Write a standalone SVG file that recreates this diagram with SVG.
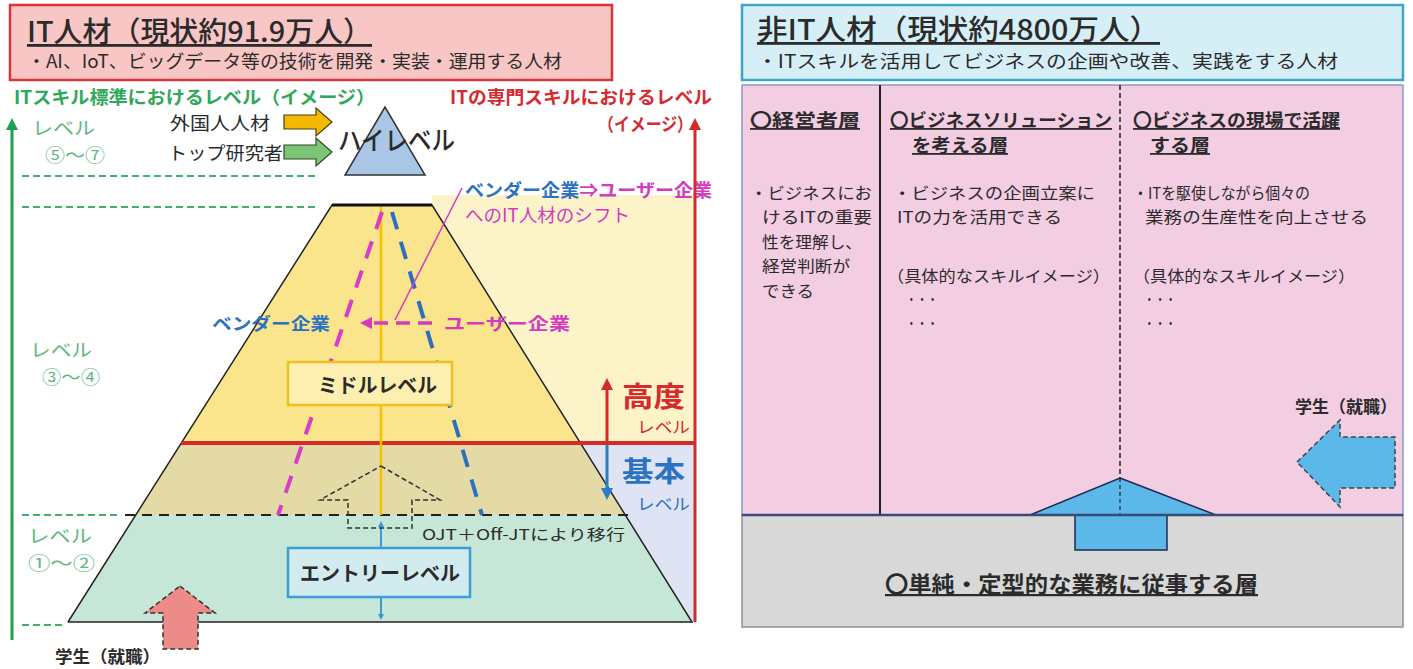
<svg xmlns="http://www.w3.org/2000/svg" width="1413" height="669" viewBox="0 0 1413 669">
<style>
text{font-family:"Noto Sans CJK JP","Noto Sans",sans-serif;}
.t{fill:#2b2b2b;}
.b{font-weight:bold;}
.m{font-weight:500;}
.u{text-decoration:underline;}
.g{fill:#2fa85a;}
.gl{fill:#5fb883;}
.r{fill:#d42a30;}
.bl{fill:#2c72c2;}
.mg{fill:#d23cbf;}
.gdash{stroke:#3fb06a;stroke-width:2;stroke-dasharray:7,4;fill:none;}
</style>
<defs>
<marker id="mGreen" viewBox="0 0 10 10" refX="5" refY="5" markerWidth="4" markerHeight="4" orient="auto-start-reverse"><path d="M0,0L10,5L0,10z" fill="#1fa050"/></marker>
<marker id="mRed" viewBox="0 0 10 10" refX="5" refY="5" markerWidth="4" markerHeight="4" orient="auto-start-reverse"><path d="M0,0L10,5L0,10z" fill="#d42a2a"/></marker>
<marker id="mBlue" viewBox="0 0 10 10" refX="5" refY="5" markerWidth="4" markerHeight="4" orient="auto-start-reverse"><path d="M0,0L10,5L0,10z" fill="#2a7dc9"/></marker>
<marker id="mLBlue" viewBox="0 0 10 10" refX="5" refY="5" markerWidth="3" markerHeight="3" orient="auto-start-reverse"><path d="M0,0L10,5L0,10z" fill="#3a9ad8"/></marker>
<marker id="mMag" viewBox="0 0 10 10" refX="5" refY="5" markerWidth="3.5" markerHeight="3.5" orient="auto-start-reverse"><path d="M0,0L10,5L0,10z" fill="#d23cbf"/></marker>
</defs>

<!-- LEFT PANEL -->
<g id="it-title">
<rect x="10" y="5" width="602" height="75" fill="#f8c6c4" stroke="#d8343c" stroke-width="2.5"/>
<text class="t m u" x="27" y="42" font-size="28" textLength="345" lengthAdjust="spacingAndGlyphs">IT人材（現状約91.9万人）</text>
<text class="t" x="27" y="68" font-size="18" textLength="535" lengthAdjust="spacingAndGlyphs">・AI、IoT、ビッグデータ等の技術を開発・実装・運用する人材</text>
</g>

<g id="backgrounds">
<rect x="432" y="195" width="263" height="248" fill="#fdf3c9"/>
<rect x="560" y="443" width="135" height="179" fill="#dfe4f4"/>
</g>

<g id="pyramid">
<polygon points="332,205 432,205 580.4,443 181.3,443" fill="#fae48c"/>
<polygon points="181.3,443 580.4,443 625.3,515 135.8,515" fill="#e4daa5"/>
<polygon points="135.8,515 625.3,515 692,622 68,622" fill="#c6e6d7"/>
<polyline points="68,622 332,205 432,205 692,622 68,622" fill="none" stroke="#222" stroke-width="1.5"/>
<line x1="332" y1="205" x2="432" y2="205" stroke="#111" stroke-width="3"/>
<line x1="125" y1="515" x2="628" y2="515" stroke="#222" stroke-width="2" stroke-dasharray="10,7"/>
<line x1="181" y1="443" x2="695" y2="443" stroke="#d42a2a" stroke-width="4"/>
</g>

<g id="high-level">
<polygon points="385,107 345,175 425,175" fill="#a9c6e6" stroke="#333" stroke-width="1.5"/>
<text class="t m" x="338" y="150" font-size="26" textLength="117" lengthAdjust="spacingAndGlyphs">ハイレベル</text>
</g>

<g id="left-axis-labels">
<text class="g b" x="14" y="104" font-size="18" textLength="361" lengthAdjust="spacingAndGlyphs">ITスキル標準におけるレベル（イメージ）</text>
<text class="gl" x="32" y="135" font-size="18" textLength="63" lengthAdjust="spacingAndGlyphs">レベル</text>
<text class="gl" x="45" y="162" font-size="18" textLength="60" lengthAdjust="spacingAndGlyphs">⑤～⑦</text>
<text class="gl" x="30" y="357" font-size="18" textLength="62" lengthAdjust="spacingAndGlyphs">レベル</text>
<text class="gl" x="42" y="384" font-size="18" textLength="58" lengthAdjust="spacingAndGlyphs">③～④</text>
<text class="gl" x="28" y="543" font-size="18" textLength="64" lengthAdjust="spacingAndGlyphs">レベル</text>
<text class="gl" x="28" y="570" font-size="18" textLength="67" lengthAdjust="spacingAndGlyphs">①～②</text>
<line class="gdash" x1="22" y1="176" x2="315" y2="176"/>
<line class="gdash" x1="22" y1="207" x2="315" y2="207"/>
<line class="gdash" x1="22" y1="515" x2="120" y2="515"/>
<line class="gdash" x1="22" y1="625" x2="65" y2="625"/>
</g>

<g id="right-axis-labels">
<text class="r b" x="450" y="104" font-size="18" textLength="262" lengthAdjust="spacingAndGlyphs">ITの専門スキルにおけるレベル</text>
<text class="r b" x="598" y="131" font-size="18" textLength="95" lengthAdjust="spacingAndGlyphs">（イメージ）</text>
<text class="r b" x="622" y="407" font-size="28" textLength="63" lengthAdjust="spacingAndGlyphs">高度</text>
<text class="r" x="637" y="433" font-size="16" textLength="53" lengthAdjust="spacingAndGlyphs">レベル</text>
<text class="bl b" x="622" y="482" font-size="28" textLength="63" lengthAdjust="spacingAndGlyphs">基本</text>
<text class="bl" x="637" y="510" font-size="16" textLength="53" lengthAdjust="spacingAndGlyphs">レベル</text>
</g>

<g id="foreign-talent">
<text class="t" x="170" y="130" font-size="18" textLength="100" lengthAdjust="spacingAndGlyphs">外国人人材</text>
<polygon points="284,115 316,115 316,108 332,122 316,136 316,129 284,129" fill="#f5b800" stroke="#4a3f10" stroke-width="1.2"/>
</g>
<g id="top-researcher">
<text class="t" x="168" y="160" font-size="18" textLength="115" lengthAdjust="spacingAndGlyphs">トップ研究者</text>
<polygon points="284,145 316,145 316,138 332,152 316,166 316,159 284,159" fill="#7cc576" stroke="#2f4a2a" stroke-width="1.2"/>
</g>

<g id="shift-label">
<text x="465" y="197" font-size="18" class="b" textLength="247" lengthAdjust="spacingAndGlyphs"><tspan class="bl">ベンダー企業</tspan><tspan class="mg">⇒ユーザー企業</tspan></text>
<text class="mg" x="465" y="222" font-size="18" textLength="165" lengthAdjust="spacingAndGlyphs">へのIT人材のシフト</text>
</g>
<g id="vendor-label">
<text class="bl b" x="212" y="330" font-size="17" textLength="118" lengthAdjust="spacingAndGlyphs">ベンダー企業</text>
</g>
<g id="user-label">
<text class="mg b" x="444" y="330" font-size="17" textLength="126" lengthAdjust="spacingAndGlyphs">ユーザー企業</text>
</g>

<g id="connectors">
<line x1="12" y1="640" x2="12" y2="124" stroke="#1fa050" stroke-width="3" marker-end="url(#mGreen)"/>
<line x1="695" y1="622" x2="695" y2="124" stroke="#d42a2a" stroke-width="3" marker-end="url(#mRed)"/>
<line x1="607" y1="443" x2="607" y2="384" stroke="#d42a2a" stroke-width="3" marker-end="url(#mRed)"/>
<line x1="607" y1="445" x2="607" y2="494" stroke="#2a7dc9" stroke-width="3" marker-end="url(#mBlue)"/>
<line x1="381" y1="207" x2="381" y2="515" stroke="#f5c000" stroke-width="2.5"/>
<line x1="381" y1="524" x2="381" y2="617" stroke="#3a9ad8" stroke-width="2" marker-start="url(#mLBlue)" marker-end="url(#mLBlue)"/>
<line x1="382" y1="212" x2="278" y2="515" stroke="#d83cc8" stroke-width="4" stroke-dasharray="18,13"/>
<line x1="392" y1="212" x2="482" y2="515" stroke="#2f6fc0" stroke-width="4" stroke-dasharray="18,13"/>
<line x1="395" y1="320" x2="462" y2="188" stroke="#d23cbf" stroke-width="1.5"/>
<line x1="432" y1="323" x2="366" y2="323" stroke="#d23cbf" stroke-width="3.5" stroke-dasharray="14,8" marker-end="url(#mMag)"/>
<polygon points="381,466 440,500 412,500 412,528 348,528 348,500 320,500" fill="none" stroke="#333" stroke-width="1.5" stroke-dasharray="5,3"/>
</g>

<g id="middle-level">
<rect x="288" y="362" width="164" height="43" fill="#fcefb0" stroke="#f0c020" stroke-width="2.5"/>
<text class="t b" x="318" y="393" font-size="20" textLength="119" lengthAdjust="spacingAndGlyphs">ミドルレベル</text>
</g>

<g id="ojt-label">
<text class="t" x="422" y="540" font-size="15" textLength="203" lengthAdjust="spacingAndGlyphs">OJT＋Off-JTにより移行</text>
</g>

<g id="entry-level">
<rect x="288" y="548" width="182" height="49" fill="#d2ebee" stroke="#3a9ed8" stroke-width="2.5"/>
<text class="t b" x="300" y="581" font-size="20" textLength="160" lengthAdjust="spacingAndGlyphs">エントリーレベル</text>
</g>

<g id="student-left">
<polygon points="180,586 215,613 198,613 198,649 163,649 163,613 145,613" fill="#ec8b87" stroke="#333" stroke-width="1.5" stroke-dasharray="5,3"/>
<text class="t b" x="55" y="663" font-size="17" textLength="105" lengthAdjust="spacingAndGlyphs">学生（就職）</text>
</g>

<!-- RIGHT PANEL -->
<g id="nonit-title">
<rect x="742" y="5" width="661" height="75" fill="#d6eff6" stroke="#3ba6c6" stroke-width="2.5"/>
<text class="t m u" x="757" y="40" font-size="28" textLength="403" lengthAdjust="spacingAndGlyphs">非IT人材（現状約4800万人）</text>
<text class="t" x="757" y="68" font-size="18" textLength="581" lengthAdjust="spacingAndGlyphs">・ITスキルを活用してビジネスの企画や改善、実践をする人材</text>
</g>

<g id="nonit-panel">
<rect x="742" y="85" width="661" height="430" fill="#f3cde2" stroke="#8a9cc0" stroke-width="1.5"/>
<rect x="742" y="515" width="661" height="112" fill="#d8d8d8" stroke="#8a8fa0" stroke-width="1.5"/>
<line x1="880" y1="85" x2="880" y2="515" stroke="#222" stroke-width="2"/>
<line x1="1120" y1="85" x2="1120" y2="515" stroke="#222" stroke-width="1.5" stroke-dasharray="5,3"/>
</g>

<g id="executive-layer">
<text class="t b u" x="750" y="127" font-size="18" textLength="110" lengthAdjust="spacingAndGlyphs">〇経営者層</text>
<text class="t" x="750" y="199" font-size="16" textLength="122" lengthAdjust="spacingAndGlyphs">・ビジネスにお</text>
<text class="t" x="762" y="223" font-size="16" textLength="110" lengthAdjust="spacingAndGlyphs">けるITの重要</text>
<text class="t" x="762" y="248" font-size="16" textLength="100" lengthAdjust="spacingAndGlyphs">性を理解し、</text>
<text class="t" x="762" y="272" font-size="16" textLength="88" lengthAdjust="spacingAndGlyphs">経営判断が</text>
<text class="t" x="762" y="297" font-size="16" textLength="52" lengthAdjust="spacingAndGlyphs">できる</text>
</g>

<g id="solution-layer">
<text class="t b u" x="890" y="127" font-size="18" textLength="222" lengthAdjust="spacingAndGlyphs">〇ビジネスソリューション</text>
<text class="t b u" x="912" y="152" font-size="18" textLength="96" lengthAdjust="spacingAndGlyphs">を考える層</text>
<text class="t" x="893" y="199" font-size="16" textLength="202" lengthAdjust="spacingAndGlyphs">・ビジネスの企画立案に</text>
<text class="t" x="897" y="223" font-size="16" textLength="165" lengthAdjust="spacingAndGlyphs">ITの力を活用できる</text>
<text class="t" x="887" y="282" font-size="16" textLength="223" lengthAdjust="spacingAndGlyphs">（具体的なスキルイメージ）</text>
<text class="t" x="906" y="304" font-size="14" textLength="32" lengthAdjust="spacingAndGlyphs">・・・</text>
<text class="t" x="906" y="328" font-size="14" textLength="32" lengthAdjust="spacingAndGlyphs">・・・</text>
</g>

<g id="field-layer">
<text class="t b u" x="1133" y="127" font-size="18" textLength="207" lengthAdjust="spacingAndGlyphs">〇ビジネスの現場で活躍</text>
<text class="t b u" x="1150" y="152" font-size="18" textLength="60" lengthAdjust="spacingAndGlyphs">する層</text>
<text class="t" x="1133" y="199" font-size="16" textLength="177" lengthAdjust="spacingAndGlyphs">・ITを駆使しながら個々の</text>
<text class="t" x="1145" y="223" font-size="16" textLength="223" lengthAdjust="spacingAndGlyphs">業務の生産性を向上させる</text>
<text class="t" x="1133" y="282" font-size="16" textLength="222" lengthAdjust="spacingAndGlyphs">（具体的なスキルイメージ）</text>
<text class="t" x="1144" y="304" font-size="14" textLength="32" lengthAdjust="spacingAndGlyphs">・・・</text>
<text class="t" x="1144" y="328" font-size="14" textLength="32" lengthAdjust="spacingAndGlyphs">・・・</text>
</g>

<g id="routine-layer">
<polygon points="1120,478 1216,515 1167,515 1167,550 1075,550 1075,515 1030,515" fill="#5bb8e8" stroke="#1e2a55" stroke-width="1.5"/>
<line x1="1120" y1="478" x2="1120" y2="515" stroke="#222" stroke-width="1.2" stroke-dasharray="4,3"/>
<line x1="742" y1="515" x2="1403" y2="515" stroke="#3b4a7c" stroke-width="2.5"/>
<text class="t b u" x="885" y="592" font-size="22" textLength="373" lengthAdjust="spacingAndGlyphs">〇単純・定型的な業務に従事する層</text>
</g>

<g id="student-right">
<polygon points="1297,462 1340,420 1340,437 1395,437 1395,488 1340,488 1340,507" fill="#5bb8e8" stroke="#444" stroke-width="1.5" stroke-dasharray="5,3"/>
<text class="t b" x="1295" y="413" font-size="17" textLength="102" lengthAdjust="spacingAndGlyphs">学生（就職）</text>
</g>
</svg>
